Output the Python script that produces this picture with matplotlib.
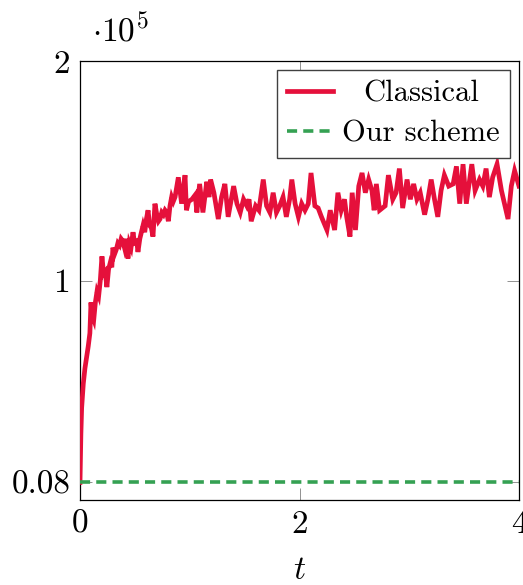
import matplotlib
matplotlib.use("Agg")
import matplotlib.pyplot as plt

plt.rcParams['font.family'] = 'serif'
plt.rcParams['font.serif'] = ['cmr10']
plt.rcParams['mathtext.fontset'] = 'cm'
plt.rcParams['axes.unicode_minus'] = False

# ---- data (values in units of 1e5) ----
t_classical = [
    0.0, 0.008, 0.015, 0.03, 0.045, 0.06, 0.075, 0.09, 0.10, 0.11, 0.125, 0.14, 0.155, 0.17,
    0.185, 0.20, 0.215, 0.23, 0.245, 0.26, 0.275, 0.29, 0.30, 0.315, 0.33, 0.345, 0.36, 0.375,
    0.39, 0.405, 0.42, 0.437, 0.45, 0.465, 0.483, 0.50, 0.515, 0.528, 0.545, 0.56, 0.574, 0.59,
    0.605, 0.62, 0.635, 0.65, 0.665, 0.683, 0.70, 0.715, 0.729, 0.745, 0.76, 0.775, 0.79, 0.805,
    0.82, 0.835, 0.85, 0.866, 0.896, 0.926, 0.957, 0.97, 0.99, 1.02, 1.05, 1.065, 1.09, 1.12,
    1.155, 1.175, 1.19, 1.22, 1.26, 1.29, 1.32, 1.35, 1.40, 1.43, 1.46, 1.49, 1.52, 1.54,
    1.56, 1.60, 1.63, 1.67, 1.70, 1.73, 1.76, 1.79, 1.82, 1.85, 1.88, 1.91, 1.93, 1.96,
    1.99, 2.02, 2.05, 2.08, 2.105, 2.14, 2.17, 2.20, 2.25, 2.28, 2.32, 2.35, 2.38, 2.41,
    2.43, 2.46, 2.48, 2.51, 2.54, 2.57, 2.60, 2.63, 2.66, 2.68, 2.70, 2.73, 2.78, 2.81,
    2.85, 2.88, 2.91, 2.94, 2.98, 3.01, 3.04, 3.07, 3.10, 3.14, 3.17, 3.20, 3.23, 3.26,
    3.29, 3.32, 3.36, 3.40, 3.43, 3.46, 3.49, 3.52, 3.57, 3.60, 3.64, 3.67, 3.70, 3.73,
    3.76, 3.80, 3.84, 3.90, 3.93, 3.96, 4.00,
]
classical_e5 = [
    0.08, 0.30, 0.42, 0.53, 0.60, 0.65, 0.70, 0.76, 0.90, 0.84, 0.82, 0.90, 0.95, 0.93,
    1.00, 1.11, 1.03, 1.04, 0.97, 1.05, 1.08, 1.06, 1.15, 1.12, 1.14, 1.17, 1.16, 1.19,
    1.18, 1.15, 1.19, 1.10, 1.17, 1.15, 1.22, 1.16, 1.19, 1.13, 1.19, 1.22, 1.25, 1.22,
    1.28, 1.32, 1.25, 1.24, 1.20, 1.35, 1.30, 1.27, 1.28, 1.31, 1.30, 1.32, 1.31, 1.27,
    1.34, 1.38, 1.36, 1.38, 1.47, 1.35, 1.48, 1.32, 1.36, 1.37, 1.39, 1.31, 1.44, 1.31,
    1.45, 1.38, 1.46, 1.40, 1.28, 1.38, 1.44, 1.29, 1.43, 1.35, 1.31, 1.37, 1.34, 1.37,
    1.27, 1.34, 1.32, 1.46, 1.34, 1.31, 1.40, 1.31, 1.34, 1.38, 1.29, 1.37, 1.46, 1.35,
    1.29, 1.35, 1.32, 1.35, 1.49, 1.34, 1.33, 1.29, 1.23, 1.32, 1.23, 1.40, 1.32, 1.37,
    1.29, 1.20, 1.40, 1.23, 1.43, 1.49, 1.40, 1.46, 1.41, 1.32, 1.44, 1.32, 1.34, 1.48,
    1.37, 1.40, 1.51, 1.33, 1.46, 1.37, 1.44, 1.37, 1.40, 1.30, 1.37, 1.46, 1.37, 1.29,
    1.41, 1.48, 1.43, 1.44, 1.52, 1.35, 1.53, 1.35, 1.53, 1.41, 1.46, 1.43, 1.51, 1.38,
    1.47, 1.53, 1.41, 1.28, 1.43, 1.50, 1.43,
]
t_ours = [0.0, 4.0]
ours_e5 = [0.08, 0.08]

x_ticks = [0, 2, 4]
x_ticklabels = ["0", "2", "4"]
y_ticks = [0.08, 1, 2]
y_ticklabels = ["0.08", "1", "2"]
series_labels = ["Classical", "Our scheme"]

RED = "#E5103B"
GREEN = "#35A153"

fig = plt.figure(figsize=(5.23, 5.85), dpi=100)
ax = fig.add_axes([80 / 523, 85 / 585, 439 / 523, 439 / 585])

ax.plot(t_classical, classical_e5, color=RED, lw=3.4, solid_joinstyle="miter",
        label=series_labels[0], zorder=3)
ax.plot(t_ours, ours_e5, color=GREEN, lw=2.6, dashes=(2.8, 1.7),
        label=series_labels[1], zorder=3)

ax.set_xlim(0, 4)
ax.set_ylim(0, 2)
ax.set_xticks(x_ticks)
ax.set_xticklabels(x_ticklabels)
ax.set_yticks(y_ticks)
ax.set_yticklabels(y_ticklabels)
ax.tick_params(direction="in", length=8.5, width=0.6, color="#808080",
               top=True, right=True, labelsize=24, pad=7)
for sp in ax.spines.values():
    sp.set_linewidth(0.9)
    sp.set_color("black")

fig.text(0.5 * (80 + 519) / 523, 6 / 585, r"$t$", fontsize=24, ha="center", va="baseline")
fig.text(92 / 523, 1 - 42 / 585, r"$\cdot 10^{5}$", fontsize=24, ha="left", va="baseline")

leg = ax.legend(loc="upper right", fontsize=22, frameon=True, fancybox=False,
                edgecolor="#404040", framealpha=1, borderaxespad=0.3,
                handlelength=1.5, handletextpad=0.3, borderpad=0.33,
                labelspacing=0.42)
leg.get_frame().set_linewidth(1.0)

# center legend texts like pgfplots
fig.canvas.draw()
r = fig.canvas.get_renderer()
texts = leg.get_texts()
w = [tx.get_window_extent(r).width for tx in texts]
wmax = max(w)
col = leg._legend_handle_box.get_children()[0]
items = col.get_children()
px_per_pt = fig.dpi / 72.0
for item, wi in zip(items, w):
    item.sep = item.sep + (wmax - wi) / 2.0 / px_per_pt

fig.savefig("out.png", dpi=100)
